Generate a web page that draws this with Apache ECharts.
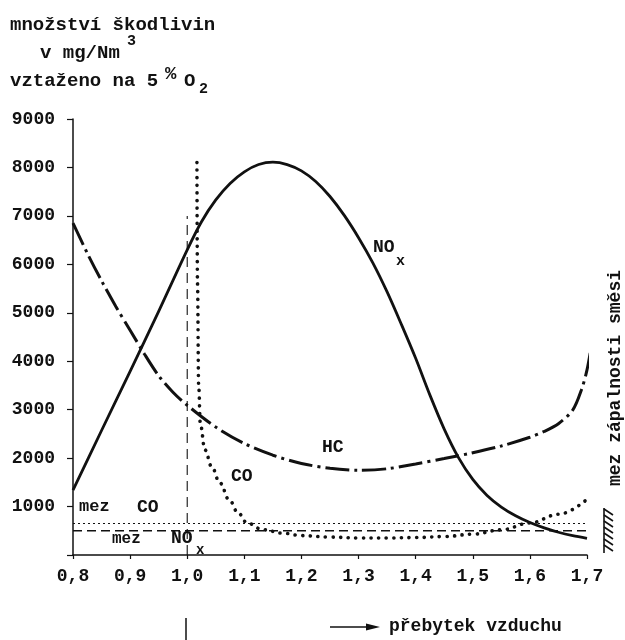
<!DOCTYPE html>
<html>
<head>
<meta charset="utf-8">
<script src="https://cdn.jsdelivr.net/npm/echarts@6/dist/echarts.min.js"></script>
<style>
html,body{margin:0;padding:0;background:#fff;}
#chart{width:625px;height:640px;}
</style>
</head>
<body>
<div id="chart"></div>
<script>
// ---- data ----
var xTicks = [0.8, 0.9, 1.0, 1.1, 1.2, 1.3, 1.4, 1.5, 1.6, 1.7];
var yTicks = [1000, 2000, 3000, 4000, 5000, 6000, 7000, 8000, 9000];

var noxX = [0.8, 0.85, 0.9, 0.95, 1.0, 1.025, 1.05, 1.075, 1.1, 1.125, 1.15, 1.175, 1.2, 1.225, 1.25, 1.275, 1.3, 1.325, 1.35, 1.375, 1.4, 1.425, 1.45, 1.475, 1.5, 1.525, 1.55, 1.575, 1.6, 1.625, 1.65, 1.675, 1.7];
var noxY = [1340, 2570, 3790, 5030, 6300, 6880, 7330, 7670, 7910, 8060, 8110, 8060, 7930, 7710, 7400, 7010, 6550, 6030, 5430, 4760, 4060, 3300, 2600, 2010, 1560, 1230, 990, 810, 670, 560, 470, 400, 345];

var hcX = [0.8, 0.825, 0.85, 0.875, 0.9, 0.925, 0.95, 0.975, 1.0, 1.05, 1.1, 1.15, 1.2, 1.25, 1.3, 1.35, 1.4, 1.45, 1.5, 1.55, 1.6, 1.625, 1.65, 1.675, 1.69, 1.7, 1.71];
var hcY = [6850, 6230, 5660, 5130, 4640, 4150, 3700, 3360, 3090, 2640, 2300, 2060, 1890, 1790, 1750, 1780, 1880, 1990, 2110, 2250, 2430, 2550, 2710, 2990, 3400, 3820, 4480];

var coX = [1.017, 1.018, 1.02, 1.023, 1.031, 1.043, 1.057, 1.074, 1.089, 1.105, 1.133, 1.168, 1.2, 1.25, 1.3, 1.35, 1.4, 1.45, 1.5, 1.55, 1.6, 1.65, 1.7];
var coY = [8100, 5600, 3500, 2700, 2170, 1820, 1490, 1130, 870, 660, 520, 450, 400, 370, 350, 350, 360, 380, 430, 520, 660, 840, 1150];

var limitX = [0.8, 1.7];
var limitCO = 650;
var limitNOx = 500;
var lambdaX = 1.0;
var lambdaTop = 7000;

function pairs(xs, ys) { return xs.map(function (x, i) { return [x, ys[i]]; }); }

var FONT = '"Liberation Mono", "DejaVu Sans Mono", monospace';
var chart = echarts.init(document.getElementById('chart'));

function txt(text, x, y, size, opts) {
  opts = opts || {};
  return {
    type: 'text', x: x, y: y, rotation: opts.rotation || 0, silent: true,
    style: {
      text: text, fill: '#111',
      font: 'bold ' + size + 'px ' + FONT,
      align: opts.align || 'left', verticalAlign: 'middle'
    }
  };
}

var option = {
  animation: false,
  backgroundColor: '#fff',
  grid: { left: 73, right: 38, top: 119, bottom: 85 },
  xAxis: {
    type: 'value', min: 0.8, max: 1.7, interval: 0.1,
    axisLine: { lineStyle: { color: '#111', width: 1.5 } },
    axisTick: { show: true, length: 4, lineStyle: { color: '#111', width: 1.2 } },
    splitLine: { show: false },
    axisLabel: {
      color: '#111', fontFamily: FONT, fontWeight: 'bold', fontSize: 18, margin: 12,
      formatter: function (v) { return v.toFixed(1).replace('.', ','); }
    }
  },
  yAxis: {
    type: 'value', min: 0, max: 9000, interval: 1000,
    axisLine: { show: true, lineStyle: { color: '#111', width: 1.5 } },
    axisTick: { show: true, length: 6, lineStyle: { color: '#111', width: 1.2 } },
    splitLine: { show: false },
    axisLabel: {
      color: '#111', fontFamily: FONT, fontWeight: 'bold', fontSize: 18, margin: 18,
      formatter: function (v) { return v === 0 ? '' : String(v); }
    }
  },
  series: [
    {
      name: 'NOx', type: 'line', smooth: 0.3, symbol: 'none',
      data: pairs(noxX, noxY),
      lineStyle: { color: '#111', width: 2.8 }
    },
    {
      name: 'HC', type: 'line', smooth: 0.3, symbol: 'none', clip: false,
      data: pairs(hcX, hcY),
      lineStyle: { color: '#111', width: 3, type: [24, 5, 3, 5] }
    },
    {
      name: 'CO', type: 'line', smooth: 0.4, smoothMonotone: 'x', symbol: 'none',
      data: pairs(coX, coY),
      lineStyle: { color: '#111', width: 3.6, type: [0.1, 7.5], cap: 'round' }
    },
    {
      name: 'mez CO', type: 'line', symbol: 'none',
      data: pairs(limitX, [limitCO, limitCO]),
      lineStyle: { color: '#111', width: 1.2, type: [2, 3] }
    },
    {
      name: 'mez NOx', type: 'line', symbol: 'none',
      data: pairs(limitX, [limitNOx, limitNOx]),
      lineStyle: { color: '#111', width: 1.6, type: [9, 5] }
    },
    {
      name: 'lambda', type: 'line', symbol: 'none',
      data: [[lambdaX, 0], [lambdaX, lambdaTop]],
      lineStyle: { color: '#111', width: 1.1, type: [10, 6] }
    }
  ],
  graphic: [
    txt('množství škodlivin', 10, 25, 19),
    txt('v mg/Nm', 40, 53, 19),
    txt('3', 127, 41, 15),
    txt('vztaženo na 5', 10, 81, 19),
    txt('%', 165, 74, 19),
    txt('O', 184, 81, 19),
    txt('2', 199, 89, 15),
    txt('NO', 373, 247, 18),
    txt('x', 396, 261, 15),
    txt('HC', 322, 447, 18),
    txt('CO', 231, 476, 18),
    txt('mez', 79, 507, 17),
    txt('CO', 137, 507, 18),
    txt('mez', 112, 539, 16),
    txt('NO', 171, 538, 18),
    txt('x', 196, 550, 14),
    txt('mez zápalnosti směsi', 615, 378, 18, { rotation: Math.PI / 2, align: 'center' }),
    txt('přebytek vzduchu', 389, 626, 18),
    {
      type: 'line', silent: true,
      shape: { x1: 330, y1: 627, x2: 370, y2: 627 },
      style: { stroke: '#111', lineWidth: 1.5 }
    },
    {
      type: 'polygon', silent: true,
      shape: { points: [[366, 623.5], [380, 627], [366, 630.5]] },
      style: { fill: '#111' }
    },
    {
      type: 'line', silent: true,
      shape: { x1: 186, y1: 618, x2: 186, y2: 640 },
      style: { stroke: '#111', lineWidth: 1.5 }
    },
    {
      type: 'line', silent: true,
      shape: { x1: 604, y1: 508, x2: 604, y2: 553 },
      style: { stroke: '#111', lineWidth: 1.6 }
    }
  ]
};
// hatch strokes of the ignition-limit marker
for (var k = 0; k < 7; k++) {
  var yy = 509 + k * 6;
  option.graphic.push({
    type: 'line', silent: true,
    shape: { x1: 604, y1: yy, x2: 613, y2: yy + 6 },
    style: { stroke: '#111', lineWidth: 1.6 }
  });
}
chart.setOption(option);
</script>
</body>
</html>
